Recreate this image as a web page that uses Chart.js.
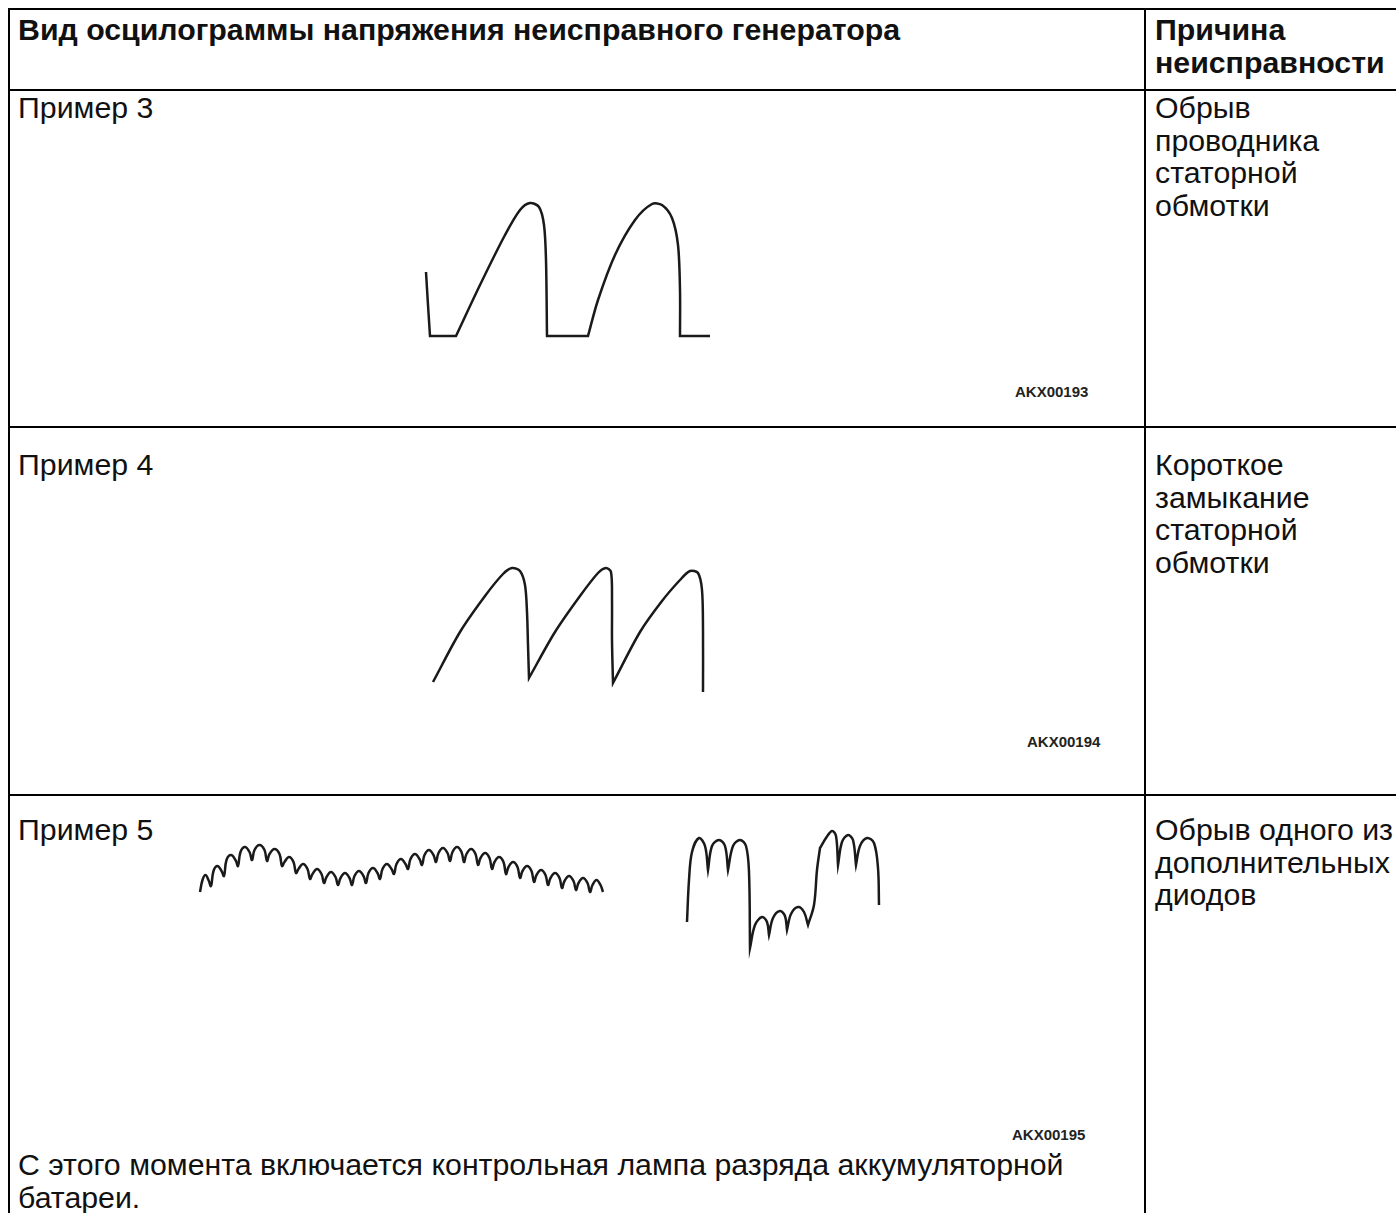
<!DOCTYPE html>
<html lang="ru">
<head>
<meta charset="utf-8">
<title>Осцилограммы неисправного генератора</title>
<script src="https://cdn.jsdelivr.net/npm/chart.js@4.4.1/dist/chart.umd.min.js"></script>
<style>
  html, body { margin: 0; padding: 0; background: #fff; overflow: hidden; }
  body { width: 1396px; height: 1213px; position: relative; font-family: "Liberation Sans", Arial, sans-serif; color: #111; }
  .ln { position: absolute; background: #000; }
  .txt { position: absolute; font-size: 30.3px; line-height: 32.5px; white-space: nowrap; }
  .b { font-weight: bold; }
  .code { position: absolute; font-size: 15px; font-weight: bold; line-height: 18px; color: #222; }
  canvas { position: absolute; }
</style>
</head>
<body>
  <!-- сетка таблицы -->
  <div class="ln" style="left:8px; top:8px; width:1400px; height:2px;"></div>
  <div class="ln" style="left:8px; top:8px; width:2px; height:1220px;"></div>
  <div class="ln" style="left:1144px; top:8px; width:2px; height:1220px;"></div>
  <div class="ln" style="left:8px; top:89px; width:1400px; height:2px;"></div>
  <div class="ln" style="left:8px; top:426px; width:1400px; height:2px;"></div>
  <div class="ln" style="left:8px; top:794px; width:1400px; height:2px;"></div>

  <div class="txt b" style="left:18px; top:14px;">Вид осцилограммы напряжения неисправного генератора</div>
  <div class="txt b" style="left:1155px; top:14px;">Причина<br>неисправности</div>

  <div class="txt" style="left:18px; top:92px;">Пример 3</div>
  <div class="txt" style="left:1155px; top:92px;">Обрыв<br>проводника<br>статорной<br>обмотки</div>
  <div class="code" style="left:1015px; top:383px;">AKX00193</div>

  <div class="txt" style="left:18px; top:449px;">Пример 4</div>
  <div class="txt" style="left:1155px; top:449px;">Короткое<br>замыкание<br>статорной<br>обмотки</div>
  <div class="code" style="left:1027px; top:733px;">AKX00194</div>

  <div class="txt" style="left:18px; top:814px;">Пример 5</div>
  <div class="txt" style="left:1155px; top:814px;">Обрыв одного из<br>дополнительных<br>диодов</div>
  <div class="code" style="left:1012px; top:1126px;">AKX00195</div>
  <div class="txt" style="left:18px; top:1149px;">С этого момента включается контрольная лампа разряда аккумуляторной<br>батареи.</div>

  <canvas id="wave3" width="500" height="250" style="left:300px; top:150px;"></canvas>
  <canvas id="wave4" width="500" height="250" style="left:300px; top:500px;"></canvas>
  <canvas id="wave5" width="800" height="200" style="left:150px; top:800px;"></canvas>

<script>
// Пример 3: обрыв проводника статорной обмотки (время, напряжение в условных единицах)
const wave3Time = [12.6, 12.8, 13.0, 13.0, 15.6, 15.6, 18.0, 20.5, 22.0, 23.0, 23.9, 24.4, 24.6, 24.7, 24.7,
                   28.8, 28.8, 29.8, 31.5, 33.5, 35.2, 36.2, 37.2, 37.8, 38.0, 38.0, 38.0, 41.0];
const wave3Volt = [12.8, 9.5, 6.4, 6.4, 6.4, 6.4, 11.5, 16.5, 19.0, 19.7, 19.3, 17.5, 14.0, 6.4, 6.4,
                   6.4, 6.4, 10.0, 14.5, 18.0, 19.6, 19.5, 18.2, 15.5, 11.0, 6.4, 6.4, 6.4];

// Пример 4: короткое замыкание статорной обмотки
const wave4Time = [13.3, 16.0, 18.5, 20.3, 21.2, 22.0, 22.5, 22.7, 22.8, 22.9, 22.9,
                   25.5, 28.0, 29.8, 30.6, 31.1, 31.2, 31.2, 31.3, 31.3,
                   34.0, 36.2, 38.0, 39.0, 39.8, 40.2, 40.3, 40.3];
const wave4Volt = [6.8, 11.8, 15.4, 17.6, 18.2, 17.9, 16.5, 13.8, 10.5, 7.2, 7.2,
                   11.8, 15.4, 17.7, 18.2, 17.8, 15.0, 11.0, 6.7, 6.7,
                   11.8, 14.9, 17.0, 17.9, 17.7, 16.0, 12.0, 5.8];

// Пример 5, левая часть: пульсации (впадины, плечи и вершины дуг)
const rippleValleyTime = [5.0, 6.1, 7.4, 8.8, 10.2, 11.7, 13.2, 14.6, 16.0, 17.4, 18.8, 20.2, 21.6, 23.0, 24.4,
                          25.8, 27.2, 28.6, 30.0, 31.4, 32.8, 34.2, 35.6, 37.0, 38.4, 39.8, 41.2, 42.6, 44.0, 45.3];
const rippleValleyVolt = [10.8, 11.4, 12.4, 13.4, 14.0, 13.9, 13.4, 12.7, 12.1, 11.7, 11.5, 11.5, 11.7, 12.1, 12.6,
                          13.1, 13.5, 13.8, 13.9, 13.8, 13.5, 13.1, 12.6, 12.2, 11.8, 11.5, 11.2, 11.0, 10.8, 10.8];
const rippleRiseTime = [5.25, 6.35, 7.65, 9.05, 10.45, 11.95, 13.45, 14.85, 16.25, 17.65, 19.05, 20.45, 21.85, 23.25, 24.65,
                        26.05, 27.45, 28.85, 30.25, 31.65, 33.05, 34.45, 35.85, 37.25, 38.65, 40.05, 41.45, 42.85, 44.25];
const ripplePeakTime = [5.55, 6.75, 8.1, 9.5, 10.95, 12.45, 13.9, 15.3, 16.7, 18.1, 19.5, 20.9, 22.3, 23.7, 25.1,
                        26.5, 27.9, 29.3, 30.7, 32.1, 33.5, 34.9, 36.3, 37.7, 39.1, 40.5, 41.9, 43.3, 44.65];
const rippleFallTime = [5.85, 7.15, 8.55, 9.95, 11.45, 12.95, 14.35, 15.75, 17.15, 18.55, 19.95, 21.35, 22.75, 24.15, 25.55,
                        26.95, 28.35, 29.75, 31.15, 32.55, 33.95, 35.35, 36.75, 38.15, 39.55, 40.95, 42.35, 43.75, 45.05];
const ripplePeakVolt = [12.5, 13.4, 14.5, 15.3, 15.5, 15.1, 14.3, 13.6, 13.1, 12.8, 12.7, 12.9, 13.2, 13.6, 14.1,
                        14.6, 15.0, 15.2, 15.3, 15.1, 14.7, 14.3, 13.8, 13.4, 13.0, 12.7, 12.4, 12.2, 12.0];
const rippleShoulderVolt = [12.0, 12.9, 14.0, 14.8, 15.0, 14.6, 13.8, 13.1, 12.6, 12.3, 12.2, 12.4, 12.7, 13.1, 13.6,
                            14.1, 14.5, 14.7, 14.8, 14.6, 14.2, 13.8, 13.3, 12.9, 12.5, 12.2, 11.9, 11.7, 11.5];

// Пример 5, правая часть: провал напряжения
const wave5Time = [53.7, 53.9, 54.2, 54.9, 55.5, 55.8, 55.8, 56.2, 56.9, 57.5, 57.8, 57.8, 58.3, 59.0, 59.6, 59.9,
                   60.0, 60.0, 60.5, 61.2, 61.7, 61.9, 61.9, 62.3, 63.0, 63.5, 63.7, 63.7, 64.1, 64.8, 65.4,
                   65.8, 65.8, 66.4, 66.7, 67.0, 67.0, 67.6, 68.2, 68.6, 68.8, 68.8, 69.2, 69.8, 70.3, 70.6, 70.6,
                   71.0, 71.7, 72.4, 72.8, 72.9];
const wave5Volt = [7.8, 12.0, 14.8, 16.2, 15.4, 13.0, 13.0, 15.4, 16.0, 15.4, 13.0, 13.0, 15.4, 16.0, 15.4, 12.8,
                   5.2, 5.2, 7.5, 8.3, 7.8, 6.5, 6.5, 8.2, 8.9, 8.4, 7.0, 7.0, 8.6, 9.3, 8.8,
                   7.5, 7.5, 9.5, 13.0, 15.2, 15.2, 16.2, 16.9, 16.4, 13.5, 13.5, 15.8, 16.5, 16.0, 13.5, 13.5,
                   15.4, 16.2, 15.7, 13.2, 9.5];

function toPoints(xs, ys) {
    return xs.map((x, i) => ({ x: x, y: ys[i] }));
}

// дуги пульсаций: впадина -> плечо -> вершина -> плечо -> следующая впадина
function ripplePoints() {
    const pts = [{ x: rippleValleyTime[0], y: rippleValleyVolt[0] }];
    for (let i = 0; i < ripplePeakTime.length; i++) {
        pts.push({ x: rippleRiseTime[i], y: rippleShoulderVolt[i] });
        pts.push({ x: ripplePeakTime[i], y: ripplePeakVolt[i] });
        pts.push({ x: rippleFallTime[i], y: rippleShoulderVolt[i] });
        pts.push({ x: rippleValleyTime[i + 1], y: rippleValleyVolt[i + 1] });
    }
    return pts;
}

function trace(points, tension) {
    return {
        data: points,
        showLine: true,
        borderColor: '#1a1a1a',
        borderWidth: 2.5,
        pointRadius: 0,
        tension: tension,
        fill: false
    };
}

function drawWave(id, datasets, xMax, yMax) {
    return new Chart(document.getElementById(id), {
        type: 'scatter',
        data: { datasets: datasets },
        options: {
            responsive: false,
            animation: false,
            events: [],
            layout: { padding: 0 },
            plugins: { legend: { display: false }, tooltip: { enabled: false } },
            scales: {
                x: { type: 'linear', display: false, min: 0, max: xMax },
                y: { type: 'linear', display: false, min: 0, max: yMax }
            }
        }
    });
}

drawWave('wave3', [trace(toPoints(wave3Time, wave3Volt), 0.3)], 50, 25);
drawWave('wave4', [trace(toPoints(wave4Time, wave4Volt), 0.3)], 50, 25);
drawWave('wave5', [
    trace(ripplePoints(), 0.4),
    trace(toPoints(wave5Time, wave5Volt), 0.35)
], 80, 20);
</script>
</body>
</html>
